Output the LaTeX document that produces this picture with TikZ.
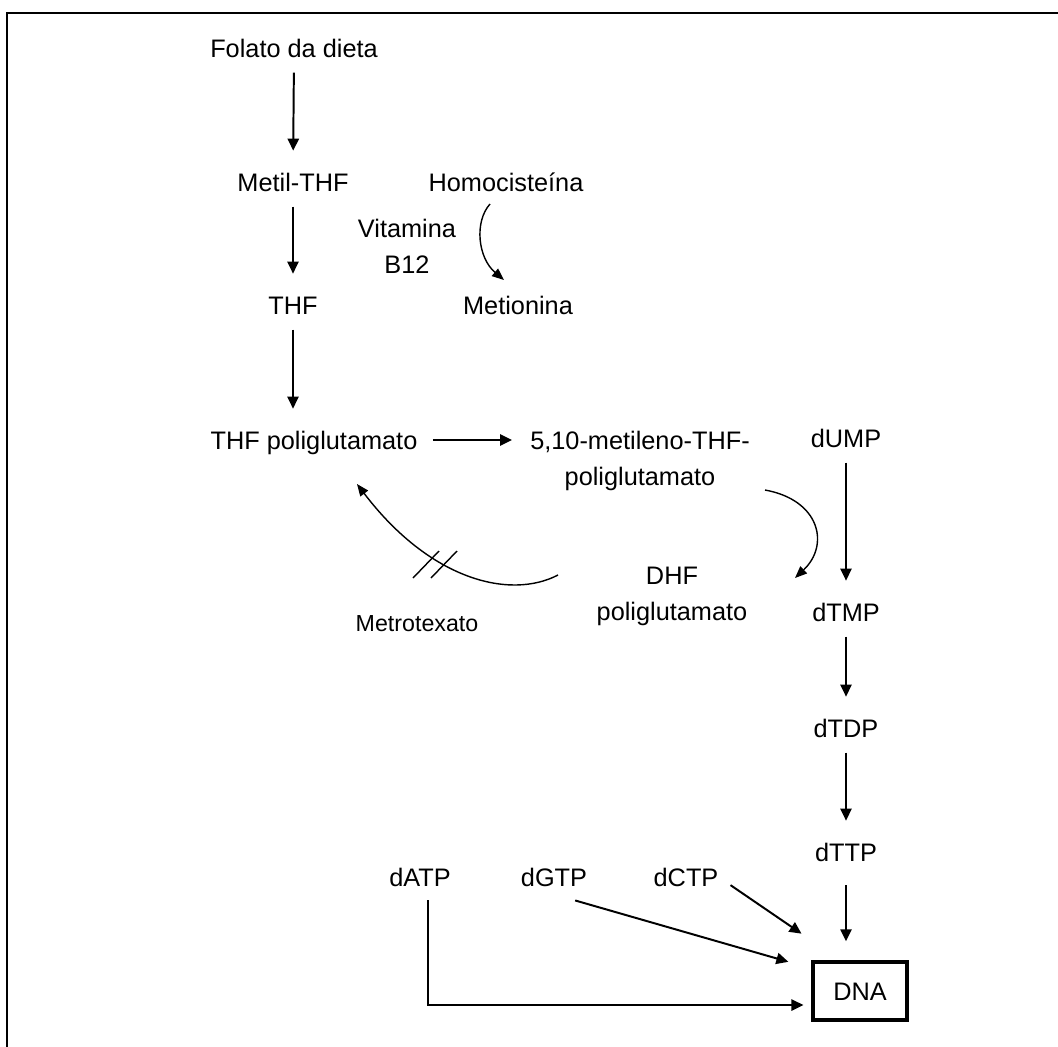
\documentclass[tikz,border=0pt]{standalone}
\usepackage{fontspec}
\setmainfont{Liberation Sans}
\usetikzlibrary{arrows.meta}

\tikzset{
  lbl/.style={inner sep=0pt, text height=12.9pt, text depth=0pt, font=\fontsize{18}{25.5}\selectfont},
  lbltwo/.style={inner sep=0pt, align=center, anchor=north, font=\fontsize{18}{25.5}\selectfont},
  nota/.style={inner sep=0pt, font=\fontsize{16.5}{20}\selectfont},
  caixa/.style={lbl, draw, line width=2.2pt, minimum width=2.35cm, minimum height=1.45cm},
  seta/.style={-{Triangle[length=0.3cm,width=0.28cm]}, line width=1.4pt, shorten <=0.38cm, shorten >=0.55cm},
  curva/.style={-{Triangle[length=0.3cm,width=0.24cm]}, line width=1pt},
}

\begin{document}
\begin{tikzpicture}[x=0.025cm, y=-0.025cm]
    \clip (0,0) rectangle (1058,1046);
    % Moldura
    \draw[line width=2pt] (7,13) rectangle (1100,1100);

    % Via do folato
    \node[lbl] (folato) at (294,48) {Folato da dieta};
    \node[lbl] (metil) at (293,182) {Metil-THF};
    \node[lbl] (homo) at (506,182) {Homocisteína};
    \node[lbltwo] (vitb) at (407,219) {Vitamina\\B12};
    \node[lbl] (thf) at (293,305) {THF};
    \node[lbl] (metio) at (518,305) {Metionina};
    \node[lbl] (thfpoli) at (314,440) {THF poliglutamato};
    \node[lbltwo] (metileno) at (640,431) {5,10-metileno-THF-\\poliglutamato};
    \node[lbltwo] (dhf) at (672,567) {DHF\\poliglutamato};
    \node[nota] (metro) at (417,624) {Metrotexato};

    \draw[seta] (folato.south) -- (metil.north);
    \draw[seta] (metil.south) -- (thf.north);
    \draw[seta] (thf.south) -- (thf.south |- thfpoli.north);
    \draw[seta, shorten >=0.45cm] (thfpoli.east) -- (thfpoli.east -| metileno.west);

    % Homocisteina -> Metionina
    \coordinate (homoS) at (490,204);
    \coordinate (metioE) at (504,280);
    \draw[curva] (homoS) .. controls (474,222) and (478,258) .. (metioE);

    % 5,10-metileno -> DHF
    \coordinate (metilenoS) at (765,490);
    \coordinate (dhfE) at (795,578);
    \draw[curva] (metilenoS) .. controls (820,500) and (830,545) .. (dhfE);

    % DHF -> THF poliglutamato (bloqueio)
    \coordinate (dhfS) at (558,575);
    \coordinate (thfpoliE) at (357,484);
    \draw[curva] (dhfS) .. controls (510,600) and (430,580) .. (thfpoliE);
    \draw[line width=1pt] (413,578) -- (439,551);
    \draw[line width=1pt] (431,578) -- (457,551);

    % Nucleotideos
    \node[lbl] (dump) at (846,438) {dUMP};
    \node[lbl] (dtmp) at (846,612) {dTMP};
    \node[lbl] (dtdp) at (846,728) {dTDP};
    \node[lbl] (dttp) at (846,852) {dTTP};
    \node[lbl] (datp) at (420,877) {dATP};
    \node[lbl] (dgtp) at (554,877) {dGTP};
    \node[lbl] (dctp) at (686,877) {dCTP};
    \node[caixa] (dna) at (860,991) {DNA};

    \draw[seta] (dump.south) -- (dtmp.north);
    \draw[seta] (dtmp.south) -- (dtdp.north);
    \draw[seta] (dtdp.south) -- (dttp.north);
    \draw[seta, shorten <=0.6cm, shorten >=0.48cm] (dttp.south) -- (dttp.south |- dna.north);
    \draw[seta, shorten <=0.36cm, shorten >=0.3cm] (dctp.east) -- ([yshift=0.5cm]dna.north west);
    \draw[seta, shorten <=0.55cm, shorten >=0.6cm] ([yshift=-0.2cm]dgtp.south) -- ([yshift=-0.2cm]dna.north west);
    \draw[seta, shorten <=0.35cm, shorten >=0.2cm] ([xshift=0.2cm]datp.south) |- ([yshift=-0.35cm]dna.west);
\end{tikzpicture}
\end{document}
